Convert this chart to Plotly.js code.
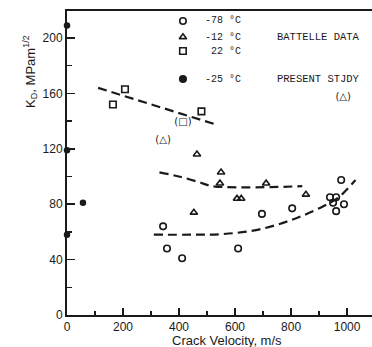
<!DOCTYPE html>
<html>
<head>
<meta charset="utf-8">
<script src="https://cdn.plot.ly/plotly-3.0.1.min.js"></script>
<style>html,body{margin:0;padding:0;background:#fff;}#chart{width:372px;height:347px;}</style>
</head>
<body>
<div id="chart"></div>
<script>
// -78 C (Battelle) open circles
const c78X = [343, 357, 411, 611, 696, 804, 939, 961, 950, 961, 989, 979];
const c78Y = [64, 48, 41, 48, 73, 77, 85, 85, 81, 75, 80, 97.5];
// -12 C (Battelle) open triangles
const c12X = [453, 546, 550, 464, 607, 622, 711, 853];
const c12Y = [74, 95, 103, 116, 84, 84, 95, 87];
// 22 C (Battelle) open squares
const c22X = [164, 207, 480];
const c22Y = [152, 163, 147];
// parenthesised (questionable) points
const parX = [343, 986, 414];
const parY = [126, 157, 139];
const parText = ["(\u25B3)", "(\u25B3)", "(\u25A1)"];
// -25 C present study (filled)
const psX = [0, 0, 0, 57];
const psY = [209, 119, 58, 81];
// dashed trend curves
const fit78X = [310, 450, 560, 680, 800, 910, 970, 1030];
const fit78Y = [58, 58, 58.5, 61.5, 68.5, 78, 85, 97.5];
const fit12X = [330, 400, 470, 520, 840];
const fit12Y = [103, 100, 96, 93, 93];
const fit22X = [111, 540];
const fit22Y = [164, 137];
// legend keys
const legX = [414, 414, 414, 414];
const legY = [212.3, 200.7, 190.6, 170.4];
const legLabels = ["-78 \u00B0C", "-12 \u00B0C", "22 \u00B0C", "-25 \u00B0C"];
const legSymbols = ["circle-open", "triangle-up-open", "square-open", "circle"];
const groupLabels = ["BATTELLE DATA", "PRESENT STJDY"];
const groupY = [200.7, 170.4];
const xTickVals = [0, 200, 400, 600, 800, 1000];
const yTickVals = [0, 40, 80, 120, 160, 200];

const ink = "#1a1a1a";
const dash = {color: ink, width: 2.2, dash: "9px,5px"};

const traces = [
  {x: fit78X, y: fit78Y, mode: "lines", line: Object.assign({shape: "spline"}, dash), hoverinfo: "skip"},
  {x: fit12X, y: fit12Y, mode: "lines", line: Object.assign({shape: "spline"}, dash), hoverinfo: "skip"},
  {x: fit22X, y: fit22Y, mode: "lines", line: dash, hoverinfo: "skip"},
  {x: c78X, y: c78Y, mode: "markers", marker: {symbol: "circle-open", size: 6.5, color: ink, line: {width: 1.6, color: ink}}},
  {x: c12X, y: c12Y, mode: "markers", marker: {symbol: "triangle-up-open", size: 6.5, color: ink, line: {width: 1.6, color: ink}}},
  {x: c22X, y: c22Y, mode: "markers", marker: {symbol: "square-open", size: 6.5, color: ink, line: {width: 1.6, color: ink}}},
  {x: parX, y: parY, mode: "text", text: parText, textposition: "middle center",
   textfont: {family: "DejaVu Sans", size: 10, color: ink}},
  {x: psX, y: psY, mode: "markers", cliponaxis: false, marker: {symbol: "circle", size: 6.5, color: ink}},
  {x: legX, y: legY, mode: "markers", cliponaxis: false,
   marker: {symbol: legSymbols, size: 6.5, color: ink, line: {width: 1.6, color: ink}}}
];

const annotations = [];
legLabels.forEach((t, i) => annotations.push({
  x: 629, y: legY[i], xref: "x", yref: "y", text: t, showarrow: false,
  xanchor: "right", yanchor: "middle", font: {family: "Liberation Mono", size: 10, color: ink}
}));
groupLabels.forEach((t, i) => annotations.push({
  x: 743, y: groupY[i], xref: "x", yref: "y", text: t, showarrow: false,
  xanchor: "left", yanchor: "middle", font: {family: "Liberation Mono", size: 10.5, color: ink}
}));
annotations.push({
  x: -0.121, y: 0.80, xref: "paper", yref: "paper", text: "K<sub>D</sub>, MPam<sup>1/2</sup>",
  showarrow: false, textangle: -90, xanchor: "center", yanchor: "middle",
  font: {family: "Liberation Sans", size: 13, color: ink}
});
annotations.push({
  x: 0.525, y: -0.085, xref: "paper", yref: "paper", text: "Crack Velocity, m/s",
  showarrow: false, xanchor: "center", yanchor: "middle",
  font: {family: "Liberation Sans", size: 13, color: ink}
});

const layout = {
  width: 372, height: 347,
  margin: {l: 67, r: 0, t: 11, b: 32},
  paper_bgcolor: "#fff", plot_bgcolor: "#fff",
  showlegend: false,
  font: {family: "Liberation Sans", color: ink},
  xaxis: {
    range: [0, 1089], showgrid: false, zeroline: false,
    showline: true, linecolor: ink, linewidth: 2, mirror: true,
    ticks: "inside", ticklen: 7, tickwidth: 1.5, tickcolor: ink,
    tickvals: xTickVals, ticktext: xTickVals.map(String),
    tickfont: {family: "Liberation Sans", size: 12, color: ink},
    minor: {tickvals: [100, 300, 500, 700, 900], ticks: "inside", ticklen: 4, tickwidth: 1.3, tickcolor: ink}
  },
  yaxis: {
    range: [0, 219.5], showgrid: false, zeroline: false,
    showline: true, linecolor: ink, linewidth: 2,
    ticks: "inside", ticklen: 8, tickwidth: 1.5, tickcolor: ink,
    tickvals: yTickVals, ticktext: yTickVals.map(String),
    tickfont: {family: "Liberation Sans", size: 12, color: ink},
    minor: {tickvals: [20, 60, 100, 140, 180], ticks: "inside", ticklen: 5, tickwidth: 1.3, tickcolor: ink}
  },
  annotations: annotations
};
Plotly.newPlot("chart", traces, layout, {staticPlot: true});
</script>
</body>
</html>
